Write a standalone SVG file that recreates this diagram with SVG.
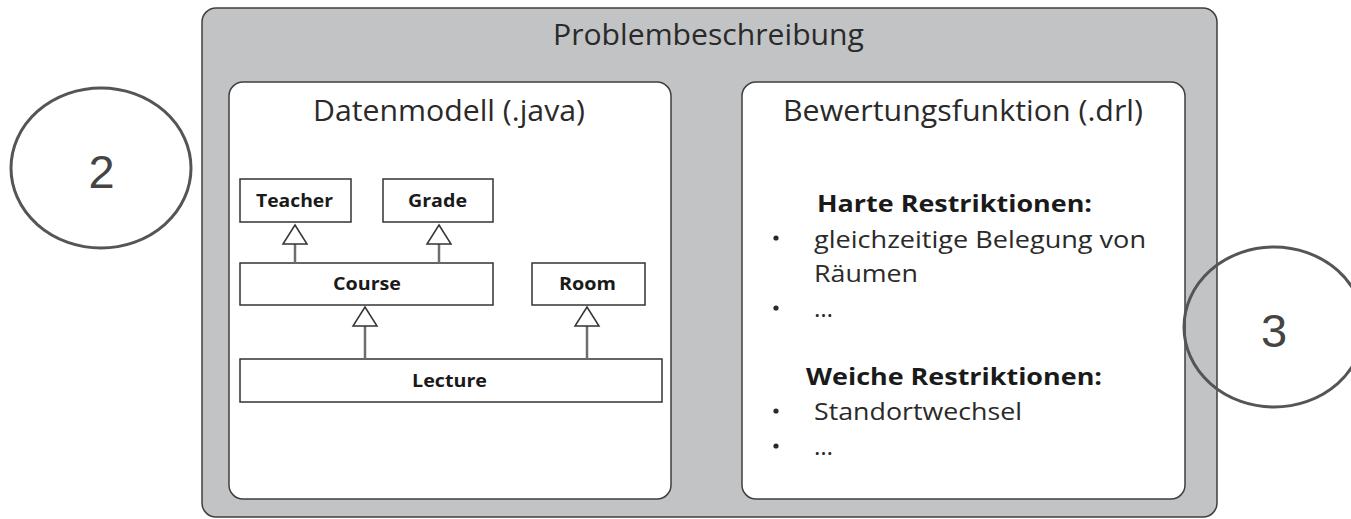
<svg xmlns="http://www.w3.org/2000/svg" width="1351" height="519" viewBox="0 0 1351 519">
  <style>
    .frame { fill: #c2c3c5; stroke: #3f3f3f; stroke-width: 1.5; }
    .panel { fill: #ffffff; stroke: #3f3f3f; stroke-width: 1.5; }
    .cls { fill: #ffffff; stroke: #333333; stroke-width: 1.5; }
    .head { font-family: "Open Sans", "Noto Sans", sans-serif; font-size: 29px; fill: #2a2a2a; }
    .cname { font-family: "Open Sans", "Noto Sans", sans-serif; font-size: 18px; font-weight: bold; fill: #1a1a1a; }
    .rule { font-family: "Open Sans", "Noto Sans", sans-serif; font-size: 24px; fill: #2a2a2a; }
    .ruleh { font-family: "Open Sans", "Noto Sans", sans-serif; font-size: 23px; font-weight: bold; fill: #1a1a1a; }
    .dot { fill: #2a2a2a; }
    .gen { stroke: #6e6e6e; stroke-width: 2.5; fill: none; }
    .mark { fill: #ffffff; stroke: #333333; stroke-width: 1.5; }
    .badge { fill: none; stroke: #555555; stroke-width: 3; }
    .badgenum { font-family: "Liberation Sans", Arial, sans-serif; font-size: 47px; fill: #444444; text-anchor: middle; }
  </style>

  <!-- outer frame -->
  <g id="problem">
    <rect class="frame" x="202" y="8" width="1015" height="509" rx="14"/>
    <text class="head" x="553" y="45" textLength="311" lengthAdjust="spacingAndGlyphs">Problembeschreibung</text>
  </g>

  <!-- data model panel -->
  <g id="datenmodell">
    <rect class="panel" x="229" y="82" width="442" height="417" rx="14"/>
    <text class="head" x="313" y="121" textLength="272" lengthAdjust="spacingAndGlyphs">Datenmodell (.java)</text>
  </g>

  <g id="teacher">
    <rect class="cls" x="240" y="179" width="111" height="43"/>
    <text class="cname" x="256" y="207" textLength="77" lengthAdjust="spacingAndGlyphs">Teacher</text>
  </g>
  <g id="grade">
    <rect class="cls" x="383" y="179" width="110" height="43"/>
    <text class="cname" x="408" y="207" textLength="59" lengthAdjust="spacingAndGlyphs">Grade</text>
  </g>
  <g id="course">
    <rect class="cls" x="240" y="263" width="253" height="42"/>
    <text class="cname" x="333" y="290" textLength="68" lengthAdjust="spacingAndGlyphs">Course</text>
  </g>
  <g id="room">
    <rect class="cls" x="532" y="263" width="113" height="42"/>
    <text class="cname" x="559" y="290" textLength="57" lengthAdjust="spacingAndGlyphs">Room</text>
  </g>
  <g id="lecture">
    <rect class="cls" x="240" y="359" width="422" height="43"/>
    <text class="cname" x="412" y="387" textLength="75" lengthAdjust="spacingAndGlyphs">Lecture</text>
  </g>

  <!-- generalization connectors -->
  <g id="connectors">
    <line class="gen" x1="295" y1="263" x2="295" y2="244"/>
    <polygon class="mark" points="295,225 283,244 307,244"/>
    <line class="gen" x1="439" y1="263" x2="439" y2="244"/>
    <polygon class="mark" points="439,225 427,244 451,244"/>
    <line class="gen" x1="365" y1="359" x2="365" y2="326"/>
    <polygon class="mark" points="365,307 353,326 377,326"/>
    <line class="gen" x1="587" y1="359" x2="587" y2="326"/>
    <polygon class="mark" points="587,307 575,326 599,326"/>
  </g>

  <!-- scoring panel -->
  <g id="bewertung">
    <rect class="panel" x="742" y="82" width="443" height="417" rx="14"/>
    <text class="head" x="783" y="121" textLength="360" lengthAdjust="spacingAndGlyphs">Bewertungsfunktion (.drl)</text>
    <text class="ruleh" x="817" y="212" textLength="275" lengthAdjust="spacingAndGlyphs">Harte Restriktionen:</text>
    <circle class="dot" cx="776" cy="238" r="2.6"/>
    <text class="rule" x="814" y="248" textLength="332" lengthAdjust="spacingAndGlyphs">gleichzeitige Belegung von</text>
    <text class="rule" x="814" y="282" textLength="104" lengthAdjust="spacingAndGlyphs">Räumen</text>
    <circle class="dot" cx="776" cy="308" r="2.6"/>
    <text class="rule" x="814" y="317" textLength="19" lengthAdjust="spacingAndGlyphs">…</text>
    <text class="ruleh" x="806" y="385" textLength="296" lengthAdjust="spacingAndGlyphs">Weiche Restriktionen:</text>
    <circle class="dot" cx="776" cy="411" r="2.6"/>
    <text class="rule" x="814" y="420" textLength="208" lengthAdjust="spacingAndGlyphs">Standortwechsel</text>
    <circle class="dot" cx="776" cy="446" r="2.6"/>
    <text class="rule" x="814" y="455" textLength="19" lengthAdjust="spacingAndGlyphs">…</text>
  </g>

  <!-- step badges -->
  <g id="badge2">
    <ellipse class="badge" cx="101" cy="168" rx="90" ry="80"/>
    <text class="badgenum" x="101.5" y="188">2</text>
  </g>
  <g id="badge3">
    <ellipse class="badge" cx="1274" cy="327" rx="90" ry="80"/>
    <text class="badgenum" x="1274" y="347">3</text>
  </g>
</svg>
